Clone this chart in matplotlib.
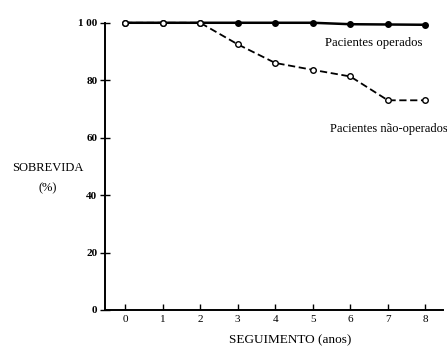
import matplotlib
matplotlib.use("Agg")
import matplotlib.pyplot as plt

# anos de seguimento e sobrevida (%)
anos = [0, 1, 2, 3, 4, 5, 6, 7, 8]
operados = [100, 100, 100, 100, 100, 100, 99.5, 99.4, 99.3]
nao_operados = [100, 100, 100, 92.5, 86, 83.6, 81.3, 73, 73]
y_ticks = [0, 20, 40, 60, 80, 100]
y_labels = ["0", "20", "40", "60", "80", "1 00"]

plt.rcParams['font.family'] = ['Liberation Serif', 'DejaVu Serif']

fig = plt.figure(figsize=(4.47, 3.53), dpi=100)
ax = fig.add_axes([0.235, 0.122, 0.757, 0.8135])

ax.plot(anos, operados, '-', color='black', lw=1.8, marker='o',
        markersize=4, markerfacecolor='black', clip_on=False, zorder=3)
ax.plot(anos, nao_operados, '--', color='black', lw=1.3, marker='o',
        markersize=4, markerfacecolor='white', markeredgewidth=1,
        dashes=(4, 2), clip_on=False, zorder=4)

ax.set_xlim(-0.533, 8.48)
ax.set_ylim(0, 100)
ax.set_xticks(anos)
ax.set_xticklabels([str(a) for a in anos], fontsize=8)
ax.set_yticks(y_ticks)
ax.set_yticklabels(y_labels, fontsize=8, fontweight='bold')

for s in ['top', 'right']:
    ax.spines[s].set_visible(False)
for s in ['left', 'bottom']:
    ax.spines[s].set_linewidth(1.4)

ax.tick_params(axis='x', direction='in', length=4, width=1, pad=4)
ax.tick_params(axis='y', direction='inout', length=7, width=1, pad=2)

ax.text(5.33, 92.9, "Pacientes operados", fontsize=9.2, va='center')
ax.text(5.47, 63.0, "Pacientes não-operados", fontsize=9, va='center')

fig.text(0.106, 0.524, "SOBREVIDA", fontsize=9, ha='center', va='center')
fig.text(0.106, 0.467, "(%)", fontsize=9, ha='center', va='center')
fig.text(0.649, 0.037, "SEGUIMENTO (anos)", fontsize=9.5, ha='center', va='center')

fig.savefig("out.png", dpi=100)
